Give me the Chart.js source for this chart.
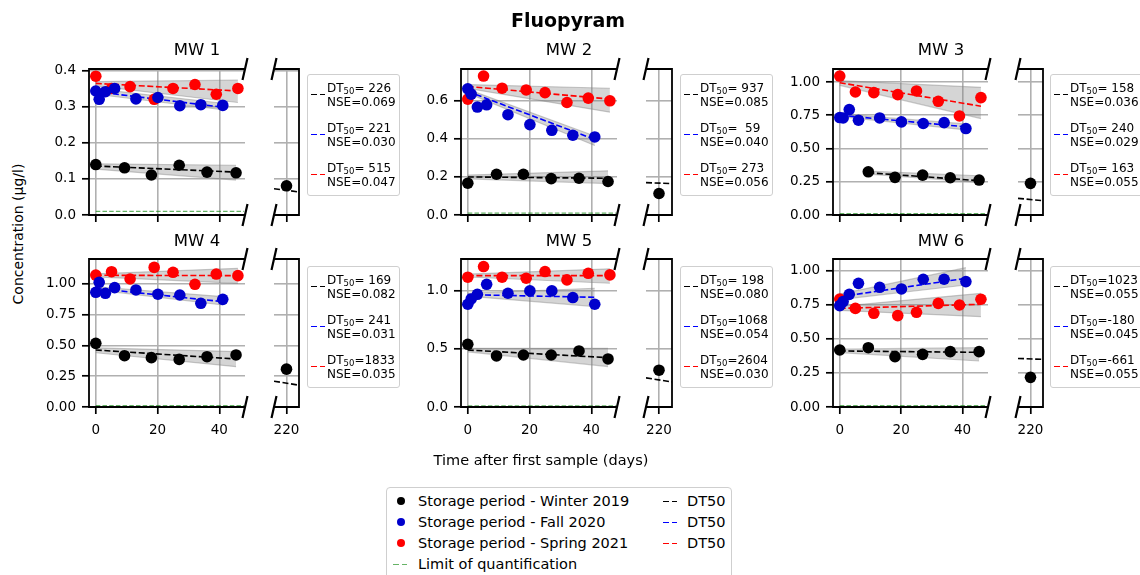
<!DOCTYPE html>
<html>
<head>
<meta charset="utf-8">
<script src="https://cdn.jsdelivr.net/npm/chart.js@4.4.1/dist/chart.umd.min.js"></script>
<style>
  body { margin: 0; background: #fff; font-family: "DejaVu Sans", sans-serif; color: #000; }
  #fig { position: relative; width: 1140px; height: 575px; overflow: hidden; background: #fff; color: #000; }
  #fig canvas { position: absolute; }
  .txt { position: absolute; white-space: nowrap; transform: translate(-50%, -50%); color: #000; }
  .lg { position: absolute; border: 1px solid #cfcfcf; border-radius: 3px; background: rgba(255,255,255,0.85); box-sizing: border-box; }
  .lg .entry { position: absolute; left: 0; font-size: 12px; line-height: 14px; white-space: pre; color: #000; }
  .lg sub { font-size: 8.5px; vertical-align: -2px; line-height: 0; }
  .dash { position: absolute; height: 0; }
  .dash i { position: absolute; top: 0; height: 0; border-top: 1.6px solid; }
  #bottomLegend { position: absolute; left: 386px; top: 487px; width: 346px; height: 100px; border: 1px solid #cfcfcf; border-radius: 4px; box-sizing: border-box; font-size: 14.5px; color: #000; }
  #bottomLegend .row { position: absolute; left: 0; width: 100%; height: 20px; line-height: 20px; }
  #bottomLegend .dot { position: absolute; left: 10px; top: 6px; width: 8px; height: 8px; border-radius: 50%; }
</style>
</head>
<body>
<div id="fig"></div>
<script>
// --- Data ---
const panelNames = ['MW 1', 'MW 2', 'MW 3', 'MW 4', 'MW 5', 'MW 6'];

const winterDays = [0, 9.3, 18, 27, 36, 45.4];
const fallDays = [0, 1.1, 3.1, 6.1, 13, 20.1, 27.2, 34, 41.1];
const springDays = [0, 5.1, 11.1, 18.9, 25, 32.1, 39, 46];
const lateDay = 220;

const winterConc = [
  [0.140, 0.131, 0.111, 0.138, 0.119, 0.117],
  [0.167, 0.214, 0.214, 0.191, 0.193, 0.176],
  [null, 0.325, 0.283, 0.300, 0.280, 0.263],
  [0.516, 0.416, 0.400, 0.386, 0.408, 0.422],
  [0.540, 0.440, 0.448, 0.448, 0.483, 0.414],
  [0.419, 0.436, 0.370, 0.387, 0.407, 0.407],
];
const winterLate = [0.081, 0.113, 0.238, 0.307, 0.317, 0.218];

const fallConc = [
  [0.344, 0.321, 0.342, 0.351, 0.322, 0.326, 0.303, 0.306, 0.304],
  [0.663, 0.635, 0.567, 0.579, 0.527, 0.475, 0.445, 0.419, 0.410],
  [0.733, 0.730, 0.793, 0.713, 0.730, 0.700, 0.688, 0.695, 0.650],
  [0.930, 1.011, 0.922, 0.968, 0.949, 0.914, 0.908, 0.841, 0.873],
  [0.885, 0.931, 0.971, 1.057, 0.980, 1.000, 1.000, 0.943, 0.885],
  [0.745, 0.775, 0.828, 0.909, 0.880, 0.868, 0.939, 0.939, 0.922],
];

const springConc = [
  [0.385, 0.351, 0.356, 0.321, 0.351, 0.362, 0.335, 0.351],
  [0.609, 0.730, 0.666, 0.657, 0.643, 0.591, 0.614, 0.600],
  [1.045, 0.925, 0.920, 0.905, 0.933, 0.855, 0.745, 0.883],
  [1.070, 1.097, 1.038, 1.132, 1.092, 0.995, 1.078, 1.065],
  [1.118, 1.210, 1.118, 1.109, 1.167, 1.095, 1.152, 1.138],
  [0.794, 0.725, 0.689, 0.672, 0.696, 0.762, 0.750, 0.792],
];

// fitted DT50 curves: value at first and last sampling day
const winterFit = [[0.136, 0.119], [0.200, 0.193], [0.318, 0.258], [0.462, 0.389], [0.491, 0.425], [0.412, 0.402]];
const fallFit = [[0.342, 0.299], [0.649, 0.397], [0.750, 0.663], [0.962, 0.854], [0.968, 0.945], [0.811, 0.946]];
const springFit = [[0.365, 0.344], [0.675, 0.609], [0.995, 0.818], [1.068, 1.065], [1.132, 1.132], [0.725, 0.755]];
// winter curve inside the 220-day window (left edge, right edge)
const winterLateFit = [[0.073, 0.064], [0.170, 0.165], [0.125, 0.108], [0.209, 0.177], [0.251, 0.216], [0.357, 0.350]];

// confidence bands: [[low, high] at first day, [low, high] at last day]
const winterBand = [
  [[0.127, 0.142], [0.097, 0.138]],
  [[0.190, 0.210], [0.165, 0.232]],
  [[0.308, 0.330], [0.245, 0.295]],
  [[0.440, 0.480], [0.327, 0.449]],
  [[0.475, 0.505], [0.348, 0.506]],
  [[0.400, 0.425], [0.338, 0.436]],
];
const fallBand = [
  [[0.335, 0.350], [0.292, 0.310]],
  [[0.640, 0.660], [0.365, 0.415]],
  [[0.740, 0.760], [0.640, 0.685]],
  [[0.950, 0.975], [0.827, 0.895]],
  [[0.955, 0.980], [0.865, 1.023]],
  [[0.790, 0.830], [0.897, 1.024]],
];
const springBand = [
  [[0.358, 0.370], [0.312, 0.374]],
  [[0.665, 0.685], [0.540, 0.666]],
  [[0.975, 1.010], [0.725, 0.960]],
  [[1.055, 1.080], [1.003, 1.124]],
  [[1.120, 1.145], [1.066, 1.190]],
  [[0.710, 0.740], [0.664, 0.836]],
];

const loq = 0.01;
const yMax = [0.405, 0.767, 1.098, 1.2, 1.275, 1.088];
const yTicks = [
  [0, 0.1, 0.2, 0.3, 0.4],
  [0, 0.2, 0.4, 0.6],
  [0, 0.25, 0.5, 0.75, 1.0],
  [0, 0.25, 0.5, 0.75, 1.0],
  [0, 0.5, 1.0],
  [0, 0.25, 0.5, 0.75, 1.0],
];
const yDecimals = [1, 1, 2, 2, 1, 2];
const mainTicks = [0, 20, 40];
const lateTicks = [220];

const dt50 = [[226, 221, 515], [937, 59, 273], [158, 240, 163], [169, 241, 1833], [198, 1068, 2604], [1023, -180, -661]];
const nse = [[0.069, 0.030, 0.047], [0.085, 0.040, 0.056], [0.036, 0.029, 0.055], [0.082, 0.031, 0.035], [0.080, 0.054, 0.030], [0.055, 0.045, 0.055]];

// --- Layout ---
const colLeft = [89, 461, 833], colRight = [245, 617, 988];
const smallLeft = [274, 646, 1018], smallRight = [299, 672, 1043];
const rowTop = [69, 259], rowBottom = [215, 407];
const legendLeft = [307, 680, 1050], legendWidth = [93, 93, 100];
const legendTop = [74, 266];
const titleX = [197, 569, 941], titleY = [49, 240];
const xMin = -2.2, xMax = 48.3, lateMin = 216, lateMax = 224;

const FONT = '"DejaVu Sans", sans-serif';
const gridColor = '#b0b0b0';
const bandFill = 'rgba(128,128,128,0.33)';
const bandEdge = 'rgba(128,128,128,0.4)';
const fitDash = [6, 2.6];
const seriesStyle = [
  { days: winterDays, conc: winterConc, fit: winterFit, band: winterBand, dot: '#000000', line: '#000000' },
  { days: fallDays, conc: fallConc, fit: fallFit, band: fallBand, dot: '#0000cc', line: '#0000ff' },
  { days: springDays, conc: springConc, fit: springFit, band: springBand, dot: '#ff0000', line: '#ff0000' },
];

const fig = document.getElementById('fig');

function addCanvas(left, top, w, h) {
  const c = document.createElement('canvas');
  c.width = w; c.height = h;
  c.style.left = left + 'px'; c.style.top = top + 'px';
  c.style.width = w + 'px'; c.style.height = h + 'px';
  fig.appendChild(c);
  return c;
}

function addText(html, x, y, style) {
  const d = document.createElement('div');
  d.className = 'txt';
  d.innerHTML = html;
  d.style.left = x + 'px'; d.style.top = y + 'px';
  Object.assign(d.style, style || {});
  fig.appendChild(d);
  return d;
}

// spines + broken-axis marks
const framePlugin = {
  id: 'frame',
  afterDraw(chart, args, opts) {
    const { ctx, chartArea: a } = chart;
    ctx.save();
    ctx.strokeStyle = '#000';
    ctx.lineWidth = 1.8;
    ctx.beginPath();
    if (opts.side === 'main') {
      ctx.moveTo(a.right, a.top); ctx.lineTo(a.left, a.top);
      ctx.lineTo(a.left, a.bottom); ctx.lineTo(a.right, a.bottom);
    } else {
      ctx.moveTo(a.left, a.top); ctx.lineTo(a.right, a.top);
      ctx.lineTo(a.right, a.bottom); ctx.lineTo(a.left, a.bottom);
    }
    ctx.stroke();
    const bx = opts.side === 'main' ? a.right : a.left;
    ctx.lineWidth = 2.2;
    ctx.beginPath();
    for (const y of [a.top, a.bottom]) {
      ctx.moveTo(bx - 2.5, y + 11);
      ctx.lineTo(bx + 2.5, y - 11);
    }
    ctx.stroke();
    ctx.restore();
  }
};

function lineSet(points, color, width, dash, order, extra) {
  return Object.assign({
    data: points, showLine: true, pointRadius: 0, borderColor: color,
    borderWidth: width, borderDash: dash, fill: false, order
  }, extra || {});
}

function makeScales(p, row, ticksX, min, max, isMain) {
  return {
    x: {
      type: 'linear', min, max,
      afterBuildTicks: s => { s.ticks = ticksX.map(v => ({ value: v })); },
      afterFit: s => { s.height = 35; s.paddingLeft = 0; s.paddingRight = 0; },
      ticks: { color: '#000', font: { family: FONT, size: 13.5 }, padding: 8, maxRotation: 0,
        callback: v => (row === 1 ? String(v) : '') },
      grid: { color: gridColor, lineWidth: 1.6, tickColor: '#000', tickLength: 7, tickWidth: 1.7 },
      border: { display: false },
    },
    y: {
      type: 'linear', min: 0, max: yMax[p],
      afterBuildTicks: s => { s.ticks = yTicks[p].map(v => ({ value: v })); },
      afterFit: s => { s.width = isMain ? 60 : 0; },
      ticks: { display: isMain, color: '#000', font: { family: FONT, size: 13.5 }, padding: 6,
        callback: v => v.toFixed(yDecimals[p]) },
      grid: { color: gridColor, lineWidth: 1.6, tickColor: '#000', tickLength: 7, tickWidth: 1.7, drawTicks: isMain },
      border: { display: false },
    },
  };
}

function baseOptions(p, row, side) {
  const isMain = side === 'main';
  return {
    responsive: false, animation: false, devicePixelRatio: 1,
    layout: { padding: isMain ? { left: 0, top: 15, right: 10, bottom: 0 } : { left: 10, top: 15, right: 10, bottom: 0 } },
    plugins: { legend: { display: false }, tooltip: { enabled: false }, frame: { side } },
    scales: isMain ? makeScales(p, row, mainTicks, xMin, xMax, true) : makeScales(p, row, lateTicks, lateMin, lateMax, false),
  };
}

function mainChart(p) {
  const col = p % 3, row = Math.floor(p / 3);
  const L = colLeft[col], R = colRight[col], T = rowTop[row], B = rowBottom[row];
  const cv = addCanvas(L - 60, T - 15, R - L + 70, B - T + 50);
  const datasets = [];
  seriesStyle.forEach(s => {
    const pts = s.days.map((d, i) => ({ x: d, y: s.conc[p][i] })).filter(q => q.y != null);
    const x0 = pts[0].x, x1 = pts[pts.length - 1].x;
    const band = s.band[p], fit = s.fit[p];
    datasets.push(lineSet([{ x: x0, y: band[0][0] }, { x: x1, y: band[1][0] }], bandEdge, 1.2, [], 3));
    datasets.push(lineSet([{ x: x0, y: band[0][1] }, { x: x1, y: band[1][1] }], bandEdge, 1.2, [], 3,
      { fill: '-1', backgroundColor: bandFill }));
    datasets.push(lineSet([{ x: x0, y: fit[0] }, { x: x1, y: fit[1] }], s.line, 1.6, fitDash, 1));
    datasets.push({ data: pts, pointRadius: 5.8, pointBackgroundColor: s.dot, pointBorderWidth: 0, order: 0 });
  });
  datasets.push(lineSet([{ x: 0, y: loq }, { x: 48, y: loq }], 'rgba(0,128,0,0.6)', 1.4, [4.5, 2.2], 2));
  new Chart(cv, { type: 'scatter', data: { datasets }, options: baseOptions(p, row, 'main'), plugins: [framePlugin] });
}

function lateChart(p) {
  const col = p % 3, row = Math.floor(p / 3);
  const L = smallLeft[col], R = smallRight[col], T = rowTop[row], B = rowBottom[row];
  const cv = addCanvas(L - 10, T - 15, R - L + 20, B - T + 50);
  const fit = winterLateFit[p];
  const datasets = [
    lineSet([{ x: lateMin, y: fit[0] }, { x: lateMax, y: fit[1] }], '#000', 1.6, fitDash, 1),
    { data: [{ x: lateDay, y: winterLate[p] }], pointRadius: 5.8, pointBackgroundColor: '#000', pointBorderWidth: 0, order: 0 },
  ];
  new Chart(cv, { type: 'scatter', data: { datasets }, options: baseOptions(p, row, 'late'), plugins: [framePlugin] });
}

function dashHandle(color, left, top) {
  return `<span class="dash" style="left:${left}px;top:${top}px;color:${color}">` +
    `<i style="left:0;width:6px"></i><i style="left:9px;width:5px"></i></span>`;
}

function panelLegend(p) {
  const col = p % 3, row = Math.floor(p / 3);
  const box = document.createElement('div');
  box.className = 'lg';
  box.style.left = legendLeft[col] + 'px';
  box.style.top = legendTop[row] + 'px';
  box.style.width = legendWidth[col] + 'px';
  box.style.height = '122px';
  const colors = ['#000', '#0000ff', '#ff0000'];
  let html = '';
  for (let k = 0; k < 3; k++) {
    const top = 6 + k * 40;
    const dt = String(dt50[p][k]).padStart(4, ' ');
    html += dashHandle(colors[k], 3, top + 13);
    html += `<div class="entry" style="top:${top}px;left:19px">DT<sub>50</sub>=${dt}\nNSE=${nse[p][k].toFixed(3)}</div>`;
  }
  box.innerHTML = html;
  fig.appendChild(box);
}

for (let p = 0; p < 6; p++) {
  mainChart(p);
  lateChart(p);
  panelLegend(p);
  addText(panelNames[p], titleX[p % 3], titleY[Math.floor(p / 3)], { fontSize: '16.5px' });
}

addText('Fluopyram', 568, 20, { fontSize: '19px', fontWeight: 'bold' });
addText('Time after first sample (days)', 541, 460, { fontSize: '14.5px' });
addText('Concentration (µg/l)', 18, 234, { fontSize: '14px', transform: 'translate(-50%, -50%) rotate(-90deg)' });

// bottom legend
const bl = document.createElement('div');
bl.id = 'bottomLegend';
const legendRows = [
  ['#000000', 'Storage period - Winter 2019', '#000'],
  ['#0000cc', 'Storage period - Fall 2020', '#0000ff'],
  ['#ff0000', 'Storage period - Spring 2021', '#ff0000'],
];
let blHtml = '';
legendRows.forEach((r, i) => {
  const top = 3 + i * 21;
  blHtml += `<div class="row" style="top:${top}px"><span class="dot" style="background:${r[0]}"></span>` +
    `<span style="position:absolute;left:31px">${r[1]}</span>` +
    dashHandle(r[2], 276, 10) +
    `<span style="position:absolute;left:300px">DT50</span></div>`;
});
blHtml += `<div class="row" style="top:66px">${dashHandle('rgba(0,128,0,0.6)', 6, 10)}` +
  `<span style="position:absolute;left:31px">Limit of quantification</span></div>`;
bl.innerHTML = blHtml;
fig.appendChild(bl);
</script>
</body>
</html>
